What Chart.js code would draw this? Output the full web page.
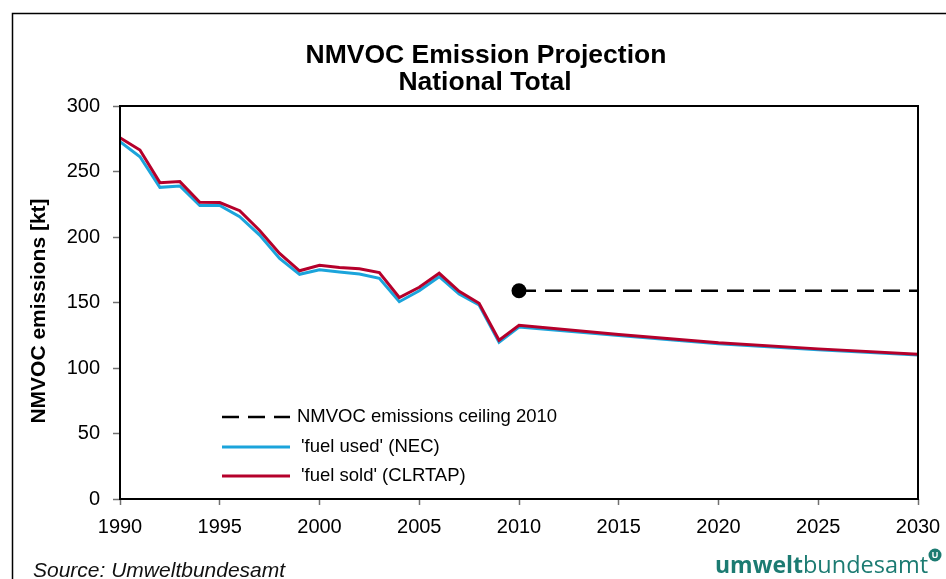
<!DOCTYPE html>
<html>
<head>
<meta charset="utf-8">
<script src="https://cdn.jsdelivr.net/npm/chart.js@4.4.1/dist/chart.umd.min.js"></script>
<style>
  html, body { margin: 0; padding: 0; background: #fff; }
  #wrap { width: 946px; height: 579px; }
</style>
</head>
<body>
<div id="wrap"><canvas id="c" width="946" height="579"></canvas></div>
<script>
// ---- data ----
const years = [1990,1991,1992,1993,1994,1995,1996,1997,1998,1999,2000,2001,2002,2003,2004,2005,2006,2007,2008,2009,2010,2015,2020,2025,2030];
const fuelUsed = [272.8,261.3,237.9,238.9,224.1,224.0,215.5,201.5,183.7,171.5,175.0,173.3,171.8,168.5,150.6,159.0,169.7,156.5,148.1,119.6,131.2,124.8,118.6,114.0,110.0];
const fuelSold = [275.8,266.4,241.5,242.3,226.5,226.3,220.1,205.0,187.5,174.2,178.4,176.8,175.8,172.8,153.8,161.6,172.3,158.5,149.4,121.2,132.6,125.5,119.2,114.6,110.5];
const ceilingYears = [2010, 2030];
const ceilingValues = [159, 159];
const xTicks = [1990,1995,2000,2005,2010,2015,2020,2025,2030];
const yTicks = [0,50,100,150,200,250,300];
const seriesLabels = ["NMVOC emissions ceiling 2010", "'fuel used' (NEC)", "'fuel sold' (CLRTAP)"];
const titleLines = ["NMVOC Emission Projection", "National Total"];
const yAxisTitle = "NMVOC emissions [kt]";
const sourceText = "Source: Umweltbundesamt";

const toPoints = (xs, ys) => xs.map((x, i) => ({ x: x, y: ys[i] }));

const FONT = "'Liberation Sans', Arial, sans-serif";
const BLUE = '#1ba4db';
const RED = '#b5002b';
const TEAL = '#1c7b72';

const decor = {
  id: 'decor',
  beforeDraw(chart) {
    const ctx = chart.ctx;
    ctx.save();
    ctx.fillStyle = '#fff';
    ctx.fillRect(0, 0, chart.width, chart.height);
    ctx.strokeStyle = '#000';
    ctx.lineWidth = 1.5;
    ctx.strokeRect(12.5, 13.5, 1000, 1000);
    // title
    ctx.fillStyle = '#000';
    ctx.font = 'bold 26.5px ' + FONT;
    ctx.textAlign = 'center';
    ctx.textBaseline = 'alphabetic';
    ctx.fillText(titleLines[0], 486, 63);
    ctx.fillText(titleLines[1], 485, 90);
    // y axis title
    ctx.save();
    ctx.translate(45, 311);
    ctx.rotate(-Math.PI / 2);
    ctx.font = 'bold 21px ' + FONT;
    ctx.textAlign = 'center';
    ctx.textBaseline = 'alphabetic';
    ctx.fillText(yAxisTitle, 0, 0);
    ctx.restore();
    // source
    ctx.textAlign = 'left';
    ctx.font = 'italic 21px ' + FONT;
    ctx.fillStyle = '#111';
    ctx.fillText(sourceText, 33, 577);
    // logo
    ctx.fillStyle = TEAL;
    ctx.font = "bold 23px 'Open Sans', " + FONT;
    ctx.fillText('umwelt', 715, 573);
    const w1 = ctx.measureText('umwelt').width;
    ctx.font = "23.5px 'Open Sans', " + FONT;
    ctx.fillText('bundesamt', 715 + w1, 573);
    ctx.beginPath();
    ctx.arc(935, 555, 6.5, 0, Math.PI * 2);
    ctx.fill();
    ctx.fillStyle = '#fff';
    ctx.font = 'bold 9px ' + FONT;
    ctx.textAlign = 'center';
    ctx.textBaseline = 'middle';
    ctx.fillText('U', 935, 555.5);
    ctx.restore();
  },
  afterDraw(chart) {
    const ctx = chart.ctx;
    const a = chart.chartArea;
    ctx.save();
    ctx.strokeStyle = '#000';
    ctx.lineWidth = 2;
    ctx.strokeRect(a.left, a.top, a.right - a.left, a.bottom - a.top);
    // legend
    const rows = [417, 447, 476];
    chart.data.datasets.forEach((ds, i) => {
      const y = rows[i];
      ctx.beginPath();
      ctx.strokeStyle = ds.borderColor;
      ctx.lineWidth = ds.borderWidth;
      ctx.setLineDash(ds.borderDash || []);
      ctx.moveTo(222, y);
      ctx.lineTo(290, y);
      ctx.stroke();
      ctx.setLineDash([]);
      ctx.fillStyle = '#000';
      ctx.font = '18.5px ' + FONT;
      ctx.textAlign = 'left';
      ctx.textBaseline = 'middle';
      ctx.fillText(ds.label, i === 0 ? 297 : 301, y);
    });
    ctx.restore();
  }
};

new Chart(document.getElementById('c'), {
  type: 'line',
  data: {
    datasets: [
      {
        label: seriesLabels[0],
        data: toPoints(ceilingYears, ceilingValues),
        borderColor: '#000',
        backgroundColor: '#000',
        borderWidth: 2.5,
        borderDash: [17, 9],
        pointRadius: (c) => c.dataIndex === 0 ? 7.5 : 0,
        pointBackgroundColor: '#000',
        pointBorderWidth: 0,
        order: 0
      },
      {
        label: seriesLabels[1],
        data: toPoints(years, fuelUsed),
        borderColor: BLUE,
        backgroundColor: BLUE,
        borderWidth: 3,
        pointRadius: 0,
        order: 2
      },
      {
        label: seriesLabels[2],
        data: toPoints(years, fuelSold),
        borderColor: RED,
        backgroundColor: RED,
        borderWidth: 3,
        pointRadius: 0,
        order: 1
      }
    ]
  },
  options: {
    responsive: false,
    animation: false,
    events: [],
    layout: { padding: { top: 106, left: 20, right: 28, bottom: 40 } },
    plugins: {
      legend: { display: false },
      title: { display: false },
      tooltip: { enabled: false }
    },
    elements: { line: { tension: 0 } },
    scales: {
      x: {
        type: 'linear',
        min: xTicks[0],
        max: xTicks[xTicks.length - 1],
        afterBuildTicks: (s) => { s.ticks = xTicks.map(v => ({ value: v })); },
        afterFit: (s) => { s.height = 40; s.paddingRight = 0; s.paddingLeft = 0; },
        border: { display: false },
        grid: { drawOnChartArea: false, drawTicks: true, tickLength: 6, tickColor: '#707070', tickWidth: 1.5 },
        ticks: {
          color: '#000',
          padding: 10,
          maxRotation: 0,
          autoSkip: false,
          font: { family: FONT, size: 20 },
          callback: (v) => String(v)
        }
      },
      y: {
        type: 'linear',
        min: yTicks[0],
        max: yTicks[yTicks.length - 1],
        afterBuildTicks: (s) => { s.ticks = yTicks.map(v => ({ value: v })); },
        afterFit: (s) => { s.width = 100; },
        border: { display: false },
        grid: { drawOnChartArea: false, drawTicks: true, tickLength: 7, tickColor: '#707070', tickWidth: 1.5 },
        ticks: {
          color: '#000',
          padding: 13,
          font: { family: FONT, size: 20 },
          callback: (v) => String(v)
        },
        title: { display: false }
      }
    }
  },
  plugins: [decor]
});
</script>
</body>
</html>
